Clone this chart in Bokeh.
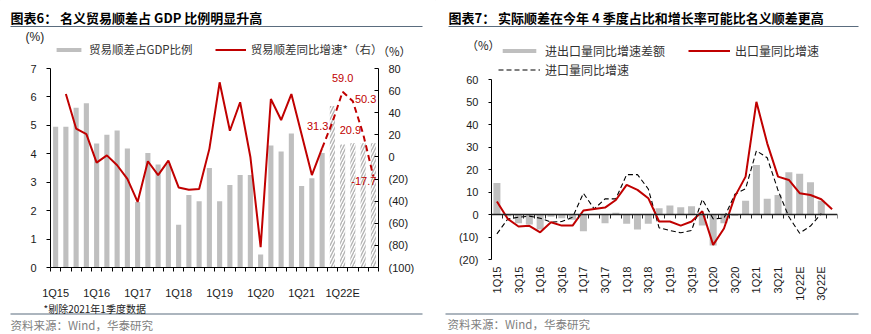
import math
from bokeh.plotting import figure
from bokeh.models import (ColumnDataSource, Range1d, LinearAxis, FixedTicker,
                          Legend, LegendItem, Label)
from bokeh.layouts import row, column
from bokeh.embed import file_html
from bokeh.resources import INLINE

# ---------------- data ----------------
quarters = ["1Q15", "2Q15", "3Q15", "4Q15", "1Q16", "2Q16", "3Q16", "4Q16",
            "1Q17", "2Q17", "3Q17", "4Q17", "1Q18", "2Q18", "3Q18", "4Q18",
            "1Q19", "2Q19", "3Q19", "4Q19", "1Q20", "2Q20", "3Q20", "4Q20",
            "1Q21", "2Q21", "3Q21", "4Q21", "1Q22E", "2Q22E", "3Q22E", "4Q22E"]
n_actual = 27  # 1Q15..3Q21 actual, later quarters are estimates

# left chart: trade surplus as % of GDP (left axis)
gdp_ratio = [4.95, 4.95, 5.62, 5.78, 4.36, 4.67, 4.82, 4.19,
             2.30, 4.03, 3.62, 3.65, 1.50, 2.55, 2.33, 3.50,
             2.33, 2.90, 3.25, 3.25, 0.46, 4.29, 4.08, 4.71,
             2.87, 3.14, 4.03, 5.68, 4.33, 4.37, 4.37, 4.37]
# left chart: trade surplus yoy growth (right axis), 1Q21 excluded
trade_growth = [None, 56.9, 25.7, 20.7, -5.1, 1.4, -7.5, -19.9,
                -40.7, -3.9, -16.4, -3.3, -27.6, -29.7, -29.1, 7.3,
                67.5, 23.7, 49.5, 0.0, -81.6, 52.4, 33.4, 56.9,
                None, -16.4, 8.0]
trade_growth_fc = [31.3, 59.0, 50.3, 20.9, -17.7]

left_ticks = [0, 1, 2, 3, 4, 5, 6, 7]
right_ticks = [-100, -80, -60, -40, -20, 0, 20, 40, 60, 80]

# right chart
volume_gap = [14.1, -0.8, -3.9, -4.4, -6.7, -1.0, -1.6, -2.3,
              -7.4, 0.3, -3.9, 0.8, -4.1, -6.7, -4.1, 2.8,
              4.0, 3.3, 3.7, -4.9, -13.8, -3.9, -0.6, 6.2,
              22.1, 7.0, 8.7, 18.8, 18.2, 14.4, 6.2]
export_growth = [5.8, -1.9, -5.3, -5.0, -7.9, -3.4, -4.9, -4.9,
                 1.8, 2.5, 3.1, 6.5, 13.2, 11.0, 7.3, -3.1,
                 -3.1, -4.9, -3.1, 1.5, -13.5, -6.2, 8.0, 16.9,
                 50.2, 31.7, 16.9, 15.4, 9.5, 8.7, 6.8, 2.4]
import_growth = [-8.6, -2.0, -1.2, -0.7, -1.6, -3.3, -3.1, -1.2,
                 9.5, 2.5, 7.0, 7.0, 17.8, 17.8, 11.4, -5.9,
                 -7.1, -8.1, -7.1, 6.8, -1.9, -1.6, 9.0, 11.5,
                 28.4, 25.3, 10.8, -1.0, -8.3, -5.1, 0.4]
gap_ticks = [-20, -10, 0, 10, 20, 30, 40, 50, 60]

# ---------------- styles ----------------
FONT = "Liberation Sans"
CJK = "Noto Sans CJK SC"
GRAY = "#bfbfbf"
RED = "#c00000"
RULE = "#5a6c7e"
TXT = "#1a1a1a"
H = 334
HEAD = 60


def paren(v):
    return "(%d)" % abs(v) if v < 0 else str(v)


def no_align(p):
    try:
        p.frame_align = False
    except Exception:
        pass


def style_axis(ax):
    ax.major_label_text_font = FONT
    ax.major_label_text_font_size = "11px"
    ax.major_label_text_color = TXT
    ax.axis_line_color = "black"
    ax.major_tick_line_color = "black"
    ax.minor_tick_line_color = "black"
    ax.minor_tick_in = 0
    ax.minor_tick_out = 0


def make_main(width, height, l, r, t, b, yr):
    p = figure(width=width, height=height, x_range=Range1d(-0.5, len(quarters) - 0.5),
               y_range=yr, x_axis_type=None, y_axis_type=None,
               output_backend="svg", toolbar_location=None,
               min_border_left=l, min_border_right=r, min_border_top=t,
               min_border_bottom=b, outline_line_color=None,
               border_fill_color="white", background_fill_color="white")
    no_align(p)
    return p


def make_blank(width, y0, y1):
    # a text-only strip; x in strip pixels, y in page pixels (growing downward)
    p = figure(width=width, height=y1 - y0, x_range=Range1d(0, width),
               y_range=Range1d(y1, y0), x_axis_type=None, y_axis_type=None,
               output_backend="svg", toolbar_location=None, min_border=0,
               min_border_left=0, min_border_right=0, min_border_top=0,
               min_border_bottom=0, outline_line_color=None,
               border_fill_color="white", background_fill_color="white")
    no_align(p)
    return p


def txt(p, x, y, text, font=CJK, size="11px", color=TXT, bold=False, align="left"):
    p.add_layout(Label(x=x, y=y, text=text, text_font=font, text_font_size=size,
                       text_color=color, text_baseline="middle", text_align=align,
                       text_font_style="bold" if bold else "normal"))


def rule(p, x0, x1, y):
    p.segment(x0=[x0], y0=[y], x1=[x1], y1=[y], line_color=RULE, line_width=1.2)


def legend(items, loc, spacing, gw, size, font=CJK, standoff=5):
    return Legend(items=items, orientation="horizontal", location=loc,
                  padding=0, margin=0, spacing=spacing, glyph_width=gw,
                  glyph_height=5, label_height=14, label_standoff=standoff,
                  label_text_font=font, label_text_font_size=size,
                  label_text_color="#333333", border_line_color=None,
                  background_fill_alpha=0)


# ================= left panel =================
W1 = 435
MAIN1_BOTTOM = 301
FRAME1_BOTTOM = 271
L1, R1 = 50, 57
p1 = make_main(W1, MAIN1_BOTTOM - HEAD, L1, R1, 8, MAIN1_BOTTOM - FRAME1_BOTTOM, Range1d(0, 7))
p1.extra_y_ranges = {"growth": Range1d(-100, 80)}

xax1 = LinearAxis(ticker=FixedTicker(ticks=list(range(0, len(quarters), 4)),
                                     minor_ticks=[i - 0.5 for i in range(len(quarters) + 1)]),
                  major_label_overrides={i: quarters[i] for i in range(0, len(quarters), 4)})
style_axis(xax1)
xax1.major_tick_in = 0
xax1.major_tick_out = 0
xax1.minor_tick_out = 4
xax1.major_label_standoff = 15
p1.add_layout(xax1, "below")

yl1 = LinearAxis(ticker=FixedTicker(ticks=left_ticks))
style_axis(yl1)
yl1.major_tick_in = 0
yl1.major_tick_out = 4
yl1.major_label_standoff = 10
p1.add_layout(yl1, "left")

yr1 = LinearAxis(y_range_name="growth", ticker=FixedTicker(ticks=right_ticks),
                 major_label_overrides={v: paren(v) for v in right_ticks})
style_axis(yr1)
yr1.major_tick_in = 4
yr1.major_tick_out = 0
yr1.major_label_standoff = 10
p1.add_layout(yr1, "right")

src_a = ColumnDataSource(dict(x=list(range(n_actual)), y=gdp_ratio[:n_actual]))
src_e = ColumnDataSource(dict(x=list(range(n_actual, len(quarters))), y=gdp_ratio[n_actual:]))
p1.vbar(x="x", top="y", width=0.5, source=src_a, fill_color=GRAY, line_color=None)
p1.vbar(x="x", top="y", width=0.5, source=src_e, fill_color="white", line_color=None,
        hatch_pattern="/", hatch_color="#b3b3b3", hatch_scale=6, hatch_weight=1.4)

gx = [i for i, v in enumerate(trade_growth) if v is not None]
gy = [v for v in trade_growth if v is not None]
p1.line(gx, gy, y_range_name="growth", line_color=RED, line_width=2)
fx = [n_actual - 1] + list(range(n_actual, len(quarters)))
fy = [trade_growth[n_actual - 1]] + trade_growth_fc
p1.line(fx, fy, y_range_name="growth", line_color=RED, line_width=2, line_dash="6 4")

lab_src = ColumnDataSource(dict(
    x=list(range(n_actual, len(quarters))), y=trade_growth_fc,
    t=["%.1f" % v for v in trade_growth_fc],
    align=["right", "center", "left", "right", "right"],
    dx=[-4, 0, 2, -2, 3], dy=[4, -14, -2, -4, 4]))
p1.text(x="x", y="y", text="t", source=lab_src, y_range_name="growth",
        text_align="align", x_offset="dx", y_offset="dy", text_baseline="middle",
        text_color=RED, text_font_size="11px", text_font={"value": FONT})

# header / footer of left panel (x = page pixels)
h1 = make_blank(W1, 0, HEAD)
txt(h1, 10, 17, "图表6：  名义贸易顺差占 GDP 比例明显升高", size="13px", bold=True, color="black")
rule(h1, 10, 422, 26)
txt(h1, 25, 36, "(%)", font=FONT, size="12px")
txt(h1, 377, 50, "（%）", size="11.5px")
# legend proxies (kept outside the visible strip)
d_bar1 = h1.vbar(x=[-100], top=[-90], bottom=[-95], width=1, fill_color=GRAY, line_color=None)
d_line1 = h1.line(x=[-100, -90], y=[-100, -100], line_color=RED, line_width=2)
h1.add_layout(legend([LegendItem(label="贸易顺差占GDP比例", renderers=[d_bar1]),
                      LegendItem(label="贸易顺差同比增速*（右）", renderers=[d_line1])],
                     (53, HEAD - 50 - 7), 22, 31, "11.5px"))

f1 = make_blank(W1, MAIN1_BOTTOM, H)
txt(f1, 43, 308, "*剔除2021年1季度数据", size="10px", color="#222222")
rule(f1, 10, 422, 313.5)
txt(f1, 10, 324, "资料来源：Wind，华泰研究", size="11.5px", color="#808080")

# ================= right panel =================
X2 = 435          # page x where the right panel starts
W2 = 436
MAIN2_BOTTOM = 310
L2, R2 = 56, 34
FRAME2_BOTTOM = 259
# frame starts right under the header; the axis itself is bounded to -20..60
top_val = 60 + (79.3 - HEAD) / ((FRAME2_BOTTOM - 79.3) / 80.0)
p2 = make_main(W2, MAIN2_BOTTOM - HEAD, L2, R2, 0, MAIN2_BOTTOM - FRAME2_BOTTOM,
               Range1d(-20, top_val))

yl2 = LinearAxis(ticker=FixedTicker(ticks=gap_ticks), bounds=(-20, 60),
                 major_label_overrides={v: paren(v) for v in gap_ticks})
style_axis(yl2)
yl2.major_tick_in = 0
yl2.major_tick_out = 3
yl2.major_label_standoff = 10
p2.add_layout(yl2, "left")

xlab2 = LinearAxis(ticker=FixedTicker(ticks=list(range(0, len(quarters), 2))),
                   major_label_overrides={i: quarters[i] for i in range(0, len(quarters), 2)})
style_axis(xlab2)
xlab2.axis_line_color = None
xlab2.major_tick_line_color = None
xlab2.major_tick_in = 0
xlab2.major_tick_out = 0
xlab2.major_label_orientation = math.pi / 2
xlab2.major_label_standoff = 7
p2.add_layout(xlab2, "below")

bars2 = p2.vbar(x=list(range(len(volume_gap))), top=volume_gap, width=0.65,
                fill_color=GRAY, line_color=None)
imp = p2.line(list(range(len(import_growth))), import_growth, line_color="black",
              line_width=1.1, line_dash="5 3")
exp_ = p2.line(list(range(len(export_growth))), export_growth, line_color=RED,
               line_width=2)

zax = LinearAxis(fixed_location=0,
                 ticker=FixedTicker(ticks=[], minor_ticks=[i - 0.5 for i in range(len(quarters) + 1)]))
style_axis(zax)
zax.axis_line_width = 1.6
zax.axis_line_color = "#222222"
zax.minor_tick_in = 4
zax.minor_tick_out = 0
zax.minor_tick_line_color = "#222222"
zax.major_tick_in = 0
zax.major_tick_out = 0
zax.major_label_standoff = 0
zax.major_label_text_font_size = "0px"
p2.add_layout(zax, "above")

p2.add_layout(legend([LegendItem(label="进口量同比增速", renderers=[imp])],
                     (498 - X2 - L2, FRAME2_BOTTOM - 71 - 7), 23, 42, "12px"))

# header / footer of right panel (x = page pixels minus X2)
h2 = make_blank(W2, 0, HEAD)
txt(h2, 448 - X2, 17, "图表7：  实际顺差在今年 4 季度占比和增长率可能比名义顺差更高", size="13px", bold=True, color="black")
rule(h2, 448 - X2, 858 - X2, 26)
txt(h2, 466 - X2, 44, "（%）", size="11.5px")
d_bar2 = h2.vbar(x=[-100], top=[-90], bottom=[-95], width=1, fill_color=GRAY, line_color=None)
d_line2 = h2.line(x=[-100, -90], y=[-100, -100], line_color=RED, line_width=2)
h2.add_layout(legend([LegendItem(label="进出口量同比增速差额", renderers=[d_bar2]),
                      LegendItem(label="出口量同比增速", renderers=[d_line2])],
                     (498 - X2, HEAD - 52 - 7), 23, 42, "12px"))

f2 = make_blank(W2, MAIN2_BOTTOM, H)
rule(f2, 445 - X2, 858 - X2, 313.5)
txt(f2, 447 - X2, 323, "资料来源：Wind，华泰研究", size="11.5px", color="#808080")

layout = row(column(h1, p1, f1), column(h2, p2, f2))
open("out.html", "w").write(file_html(layout, INLINE))
